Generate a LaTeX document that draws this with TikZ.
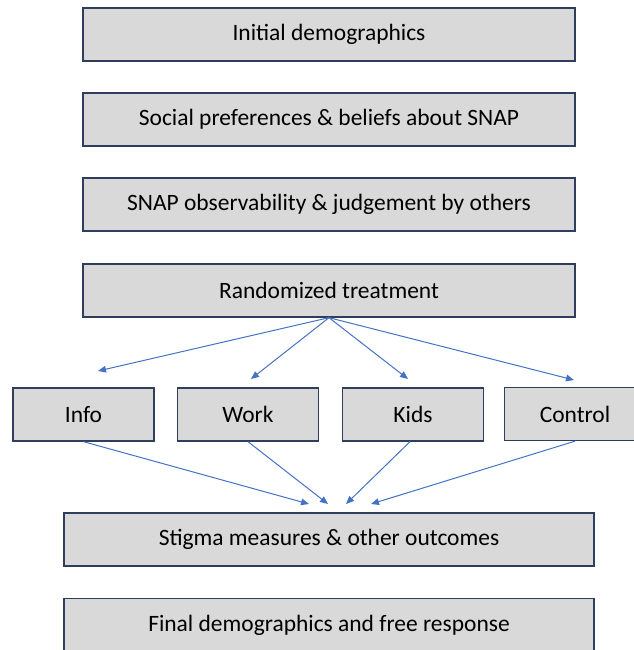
\documentclass[tikz,border=0pt]{standalone}
\usepackage{fontspec}
\setmainfont{Carlito}
\usetikzlibrary{arrows.meta}
\definecolor{boxfill}{HTML}{D9D9D9}
\definecolor{boxline}{HTML}{2F3E5C}
\definecolor{arrowblue}{HTML}{4472C4}
\begin{document}
\begin{tikzpicture}[x=0.75pt,y=-0.75pt,
  stepbox/.style={draw=boxline,fill=boxfill,line width=1pt,inner sep=0pt,
    minimum height=53*0.75pt,font=\fontsize{17.6}{21}\selectfont},
  widebox/.style={stepbox,minimum width=492*0.75pt},
  lowbox/.style={stepbox,minimum width=530*0.75pt},
  armbox/.style={stepbox,minimum width=141*0.75pt},
  flow/.style={draw=arrowblue,line width=0.75pt,
    -{Triangle[length=6pt,width=5pt]}}]
\useasboundingbox (0,0) rectangle (634,650);
\clip (0,0) rectangle (634,650);
% survey blocks
\node[widebox] (demo) at (329,34.5) {Initial demographics};
\node[widebox] (pref) at (329,119.5) {Social preferences \& beliefs about SNAP};
\node[widebox] (obs)  at (329,204.5) {SNAP observability \& judgement by others};
\node[widebox] (rt)   at (329,290.5) {Randomized treatment};
% treatment arms
\node[armbox] (info) at (83.5,414.5) {Info};
\node[armbox] (work) at (248,414.5) {Work};
\node[armbox] (kids) at (413,414.5) {Kids};
\node[armbox] (ctrl) at (575,414) {Control};
% outcomes
\node[lowbox] (stig)  at (329,539.5) {Stigma measures \& other outcomes};
\node[lowbox] (final) at (329,625) {Final demographics and free response};
% arrow tips
\coordinate (tinfo) at (98,371);
\coordinate (twork) at (251,379);
\coordinate (tkids) at (408,379);
\coordinate (tctrl) at (574,380);
\coordinate (sinfo) at (309,504);
\coordinate (swork) at (328,504);
\coordinate (skids) at (346,504);
\coordinate (sctrl) at (371,504);
% branching arrows
\draw[flow] (rt.south) -- (tinfo);
\draw[flow] (rt.south) -- (twork);
\draw[flow] (rt.south) -- (tkids);
\draw[flow] (rt.south) -- (tctrl);
% merging arrows
\draw[flow] (info.south) -- (sinfo);
\draw[flow] (work.south) -- (swork);
\draw[flow] ([xshift=-3*0.75pt]kids.south) -- (skids);
\draw[flow] (ctrl.south) -- (sctrl);
\end{tikzpicture}
\end{document}
